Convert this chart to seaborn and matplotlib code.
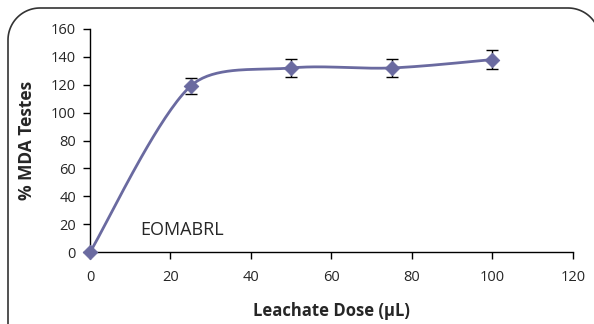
import numpy as np
import pandas as pd
import matplotlib
matplotlib.use("Agg")
import matplotlib.pyplot as plt
import seaborn as sns
from matplotlib.lines import Line2D

dose = [0, 25, 50, 75, 100]
mda = [0, 119, 132, 132, 138]
err = [0, 5.7, 6.5, 6.5, 7.1]

data = pd.DataFrame({"dose": dose, "mda": mda, "err": err})

sns.set_style("white")
plt.rcParams['font.family'] = ['Open Sans', 'DejaVu Sans']

W, H = 594, 324
fig = plt.figure(figsize=(W / 100, H / 100), dpi=100)
ax = fig.add_axes([0.1515, 0.2215, 0.813, 0.6895])

# rounded frame (pixel coords from top-left), only the parts that show in the picture
r = 32
left, top, right = 8, 8, 600
a1 = np.linspace(np.pi, 1.5 * np.pi, 30)
a2 = np.linspace(1.5 * np.pi, 2 * np.pi, 30)
fx = np.concatenate([[left], left + r + r * np.cos(a1), right - r + r * np.cos(a2), [right]])
fy = np.concatenate([[H + 5], top + r + r * np.sin(a1), top + r + r * np.sin(a2), [H + 5]])
fig.add_artist(Line2D(fx / W, 1 - fy / H, transform=fig.transFigure,
                      color="#333333", linewidth=1.2, clip_on=False))

ax.set_xlim(0, 120)
ax.set_ylim(0, 160)
color = "#6a6aa0"


def excel_smooth(xs, ys, n=40):
    # bezier smoothing in display space, roughly what Excel's "smoothed line" does
    pts = ax.transData.transform(np.column_stack([xs, ys]))
    out = []
    m = len(pts)
    for i in range(m - 1):
        p0 = pts[i - 1] if i > 0 else pts[i]
        p1, p2 = pts[i], pts[i + 1]
        p3 = pts[i + 2] if i + 2 < m else pts[i + 1]
        d01 = np.linalg.norm(p1 - p0)
        d12 = np.linalg.norm(p2 - p1)
        d23 = np.linalg.norm(p3 - p2)
        f1 = min(1, 2 * d12 / (d01 + d12))
        f2 = min(1, 2 * d12 / (d12 + d23))
        c1 = p1 + (p2 - p0) / 6 * f1
        c2 = p2 - (p3 - p1) / 6 * f2
        t = np.linspace(0, 1, n)[:, None]
        b = ((1 - t) ** 3) * p1 + 3 * ((1 - t) ** 2) * t * c1 + 3 * (1 - t) * t ** 2 * c2 + t ** 3 * p2
        out.append(b)
    out = np.vstack(out)
    return ax.transData.inverted().transform(out)


curve = excel_smooth(data["dose"].values, data["mda"].values)
sns.lineplot(x=curve[:, 0], y=curve[:, 1], ax=ax, color=color, linewidth=2, sort=False)
ax.errorbar(data["dose"], data["mda"], yerr=data["err"], fmt="none",
            ecolor="black", elinewidth=1, capsize=4, capthick=1, zorder=3)
sns.scatterplot(data=data, x="dose", y="mda", ax=ax, marker="D", s=55,
                color=color, edgecolor=color, zorder=4, clip_on=False)

ax.set_xticks(range(0, 121, 20))
ax.set_yticks(range(0, 161, 20))
ax.tick_params(axis="both", direction="out", length=5, width=1, color="black",
               labelsize=10.5, bottom=True, left=True)
ax.tick_params(axis="x", pad=8)
ax.tick_params(axis="y", pad=5)
for s in ["top", "right"]:
    ax.spines[s].set_visible(False)
for s in ["left", "bottom"]:
    ax.spines[s].set_color("black")
    ax.spines[s].set_linewidth(1)

ax.set_xlabel("Leachate Dose (µL)", fontsize=12, fontweight="bold", labelpad=12)
ax.set_ylabel("% MDA Testes", fontsize=12.5, fontweight="bold", labelpad=11)
ax.text(12.6, 16, "EOMABRL", fontsize=13, va="center", ha="left")

fig.savefig("out.png", dpi=100)
